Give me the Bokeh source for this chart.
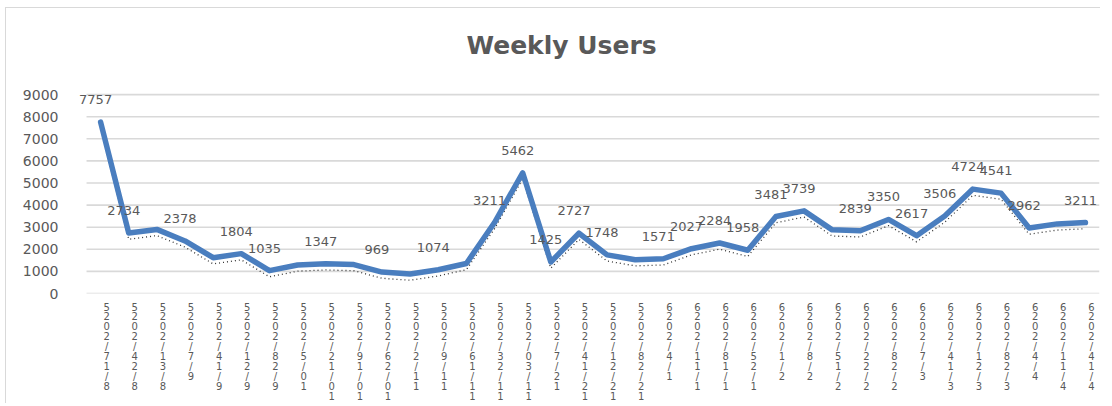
from bokeh.plotting import figure
from bokeh.layouts import column
from bokeh.models import ColumnDataSource, FixedTicker, Range1d
from bokeh.embed import file_html
from bokeh.resources import INLINE
from bokeh.core.properties import value

weeks = [
    "8/17/2025", "8/24/2025", "8/31/2025", "9/7/2025", "9/14/2025", "9/21/2025",
    "9/28/2025", "10/5/2025", "10/12/2025", "10/19/2025", "10/26/2025", "11/2/2025",
    "11/9/2025", "11/16/2025", "11/23/2025", "11/30/2025", "12/7/2025", "12/14/2025",
    "12/21/2025", "12/28/2025", "1/4/2026", "1/11/2026", "1/18/2026", "1/25/2026",
    "2/1/2026", "2/8/2026", "2/15/2026", "2/22/2026", "2/28/2026", "3/7/2026",
    "3/14/2026", "3/21/2026", "3/28/2026", "4/4/2026", "4/11/2026", "4/14/2026",
]
users = [
    7757, 2734, 2900, 2378, 1620, 1804,
    1035, 1290, 1347, 1310, 969, 880,
    1074, 1360, 3211, 5462, 1425, 2727,
    1748, 1530, 1571, 2027, 2284, 1958,
    3481, 3739, 2880, 2839, 3350, 2617,
    3506, 4724, 4541, 2962, 3150, 3211,
]
labelled = [
    1, 1, 0, 1, 0, 1,
    1, 0, 1, 0, 1, 0,
    1, 0, 1, 1, 1, 1,
    1, 0, 1, 1, 1, 1,
    1, 1, 0, 1, 1, 1,
    1, 1, 1, 1, 0, 1,
]
y_ticks = [0, 1000, 2000, 3000, 4000, 5000, 6000, 7000, 8000, 9000]

n = len(weeks)
xs = list(range(n))
shadow = [u - 280 for u in users]
src = ColumnDataSource(dict(x=xs, y=users, shadow=shadow))
lab_x = [x for x, f in zip(xs, labelled) if f]
lab_y = [u for u, f in zip(users, labelled) if f]
lab_t = [str(u) for u, f in zip(users, labelled) if f]
lab_src = ColumnDataSource(dict(x=lab_x, y=lab_y, t=lab_t))
# stacked (vertical) category labels, shown in the reference's reversed order
tick_src = ColumnDataSource(dict(x=xs, t=["\n".join(reversed(w)) for w in weeks]))
grid_src = ColumnDataSource(dict(x0=[-0.5] * len(y_ticks), x1=[n - 0.5] * len(y_ticks),
                                 y=y_ticks))

BORDER = "1px solid #d9d9d9"
# frame is a little wider on the left than the gridded area so the first data label is not clipped
xr = Range1d(-1.07, n - 0.5)

p = figure(
    width=1095, height=294,
    x_range=xr, y_range=Range1d(0, 10000),
    output_backend="svg", toolbar_location=None,
    min_border_left=64, min_border_right=2, min_border_top=64, min_border_bottom=9,
)
p.styles = {"border-top": BORDER, "border-left": BORDER,
            "margin-left": "5px", "margin-top": "7px"}
p.outline_line_color = None
p.background_fill_color = "white"
p.border_fill_color = "white"

p.title.text = "Weekly Users"
p.title.align = "left"
p.title.offset = 396
p.title.text_font = "DejaVu Sans"
p.title.text_font_size = "25px"
p.title.text_font_style = "bold"
p.title.text_color = "#595959"
p.title.standoff = 26

p.xgrid.visible = False
p.ygrid.visible = False
p.xaxis.visible = False
p.yaxis.ticker = FixedTicker(ticks=y_ticks)
p.yaxis.axis_line_color = None
p.yaxis.major_tick_line_color = None
p.yaxis.minor_tick_line_color = None
p.yaxis.major_label_text_color = "#595959"
p.yaxis.major_label_text_font = "DejaVu Sans"
p.yaxis.major_label_text_font_size = "14px"
p.yaxis.major_label_standoff = 6

p.segment(x0="x0", x1="x1", y0="y", y1="y", source=grid_src,
          line_color="#d9d9d9", line_width=1.6)

p.line("x", "shadow", source=src, line_color="black", line_width=1.3,
       line_dash="1 3", line_alpha=0.8)
p.line("x", "y", source=src, line_color="#4a7ebf", line_width=5.5,
       line_join="round", line_cap="round")

p.text("x", "y", text="t", source=lab_src, text_align="center",
       text_baseline="bottom", x_offset=-5, y_offset=-18, text_font_size="13px",
       text_font=value("DejaVu Sans"), text_color="#595959")

# strip holding the stacked category labels
p2 = figure(
    width=1095, height=102, x_range=xr, y_range=Range1d(0, 1),
    output_backend="svg", toolbar_location=None,
    x_axis_location=None, y_axis_location=None,
    min_border_left=64, min_border_right=2, min_border_top=0, min_border_bottom=0,
)
p2.styles = {"border-left": BORDER, "margin-left": "5px"}
p2.outline_line_color = None
p2.grid.visible = False
p2.background_fill_color = "white"
p2.border_fill_color = "white"
p2.text("x", 1, text="t", source=tick_src, text_align="center",
        text_baseline="top", x_offset=6, y_offset=0,
        text_font_size="10px", text_line_height=0.9,
        text_font=value("DejaVu Sans"), text_color="#595959")

layout = column(p, p2, spacing=0)
open("out.html", "w").write(file_html(layout, INLINE))
